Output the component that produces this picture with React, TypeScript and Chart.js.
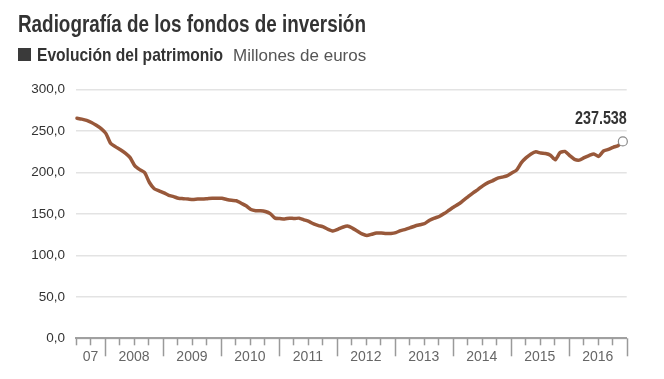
import React, { useEffect, useRef } from 'react';
import { Chart, registerables } from 'chart.js';

Chart.register(...registerables);

// Monthly values, July 2007 .. December 2016 (thousand millions of euros)
const VALUES: number[] = [
  265.5, 264.5, 263, 260.5, 257, 253, // 2007 Jul-Dec
  247, 235, 231, 227.5, 223.5, 218, 208, 203.5, 200, 188, 180.5, 178, // 2008
  175.5, 172.5, 171, 169, 168.5, 168, 167.5, 168, 168, 168.5, 169, 169, // 2009
  169, 167.5, 166.5, 166, 163, 160, 155.5, 154, 154, 153, 150.5, 145, // 2010
  144.5, 144, 145, 144.5, 145, 143, 141, 138, 136, 134.5, 131.5, 129.5, // 2011
  131.5, 134, 135.5, 133, 129.5, 126, 124, 125.5, 127, 127, 126.5, 126.5, // 2012
  127.5, 130, 131.5, 133.5, 135.5, 137, 138.5, 142.5, 145, 147, 150.5, 154.5, // 2013
  158.5, 162, 166.5, 171, 175.5, 179.5, 184, 187.5, 190, 193, 194.5, 196, // 2014
  199.5, 203, 212, 218, 222.5, 225, 223.5, 223, 221, 215.5, 224, 225.5, // 2015
  220.5, 216, 215, 218, 220.5, 222.5, 219.5, 226, 228, 230.5, 232.5, 237.538, // 2016
];

const X_LABELS: string[] = ['07', '2008', '2009', '2010', '2011', '2012', '2013', '2014', '2015', '2016'];
const Y_MIN = 0;
const Y_MAX = 300;
const Y_STEP = 50;
const LAST_LABEL = '237.538';
const TITLE = 'Radiografía de los fondos de inversión';
const SUBTITLE = 'Evolución del patrimonio';
const UNITS = 'Millones de euros';

const SANS = "'Liberation Sans', Arial, sans-serif";
const CONDENSE = 0.82;
const LINE_COLOR = '#98583a';

export default function App() {
  const ref = useRef<HTMLCanvasElement>(null);

  useEffect(() => {
    const canvas = ref.current;
    if (!canvas) return;
    const last = VALUES.length - 1;
    const points = VALUES.map((v, i) => ({ x: i + 0.2, y: v }));
    const totalMonths = 114; // Jul 2007 .. Jan 2017
    const labelPos = X_LABELS.map((_, k) => (k === 0 ? 3 : 12 * k));

    const tickMarks = {
      id: 'tickMarks',
      afterDraw(chart: any) {
        const sx = chart.scales.x;
        const ctx = chart.ctx;
        ctx.save();
        ctx.strokeStyle = '#9a9a9a';
        ctx.lineWidth = 1.5;
        for (let m = 0; m <= totalMonths; m += 3) {
          const px = Math.round(sx.getPixelForValue(m)) + 0.5;
          const len = m % 12 === 6 ? 18 : 7;
          ctx.beginPath();
          ctx.moveTo(px, sx.top);
          ctx.lineTo(px, sx.top + len);
          ctx.stroke();
        }
        ctx.restore();
      },
    };

    const endLabel = {
      id: 'endLabel',
      afterDatasetsDraw(chart: any) {
        const meta = chart.getDatasetMeta(0);
        const pt = meta.data[last];
        if (!pt) return;
        const ctx = chart.ctx;
        ctx.save();
        ctx.translate(pt.x + 4, pt.y - 17);
        ctx.scale(CONDENSE, 1);
        ctx.font = `bold 17.5px ${SANS}`;
        ctx.fillStyle = '#333';
        ctx.textAlign = 'right';
        ctx.textBaseline = 'alphabetic';
        ctx.fillText(LAST_LABEL, 0, 0);
        ctx.restore();
      },
    };

    const chart = new Chart(canvas, {
      type: 'line',
      data: {
        datasets: [
          {
            data: points,
            borderColor: LINE_COLOR,
            borderWidth: 3.5,
            borderJoinStyle: 'round',
            borderCapStyle: 'round',
            tension: 0.2,
            fill: false,
            clip: false as any,
            pointRadius: (c: any) => (c.dataIndex === last ? 4.5 : 0),
            pointHoverRadius: (c: any) => (c.dataIndex === last ? 4.5 : 0),
            pointBackgroundColor: '#fff',
            pointBorderColor: '#8a8a8a',
            pointBorderWidth: 1.2,
          },
        ],
      },
      options: {
        animation: false,
        responsive: false,
        events: [],
        layout: {
          autoPadding: false,
          padding: { top: 89.7, right: 37.3, bottom: 8.7, left: 0 },
        },
        plugins: {
          legend: { display: false },
          tooltip: { enabled: false },
          title: { display: false },
        },
        scales: {
          x: {
            type: 'linear',
            min: 0,
            max: totalMonths,
            grid: { display: false, drawTicks: false },
            border: { display: true, color: '#a0a0a0', width: 2 },
            afterBuildTicks: (scale: any) => {
              scale.ticks = labelPos.map((v) => ({ value: v }));
            },
            afterFit: (scale: any) => {
              scale.height = 32;
            },
            ticks: {
              autoSkip: false,
              maxRotation: 0,
              padding: 10,
              color: '#666',
              font: { family: SANS, size: 14 },
              callback: (value: any) => {
                const k = labelPos.indexOf(Number(value));
                return k >= 0 ? X_LABELS[k] : '';
              },
            },
          },
          y: {
            type: 'linear',
            min: Y_MIN,
            max: Y_MAX,
            grid: { color: '#e3e3e3', lineWidth: 1.5, drawTicks: false },
            border: { display: false },
            afterFit: (scale: any) => {
              scale.width = 76;
            },
            ticks: {
              stepSize: Y_STEP,
              padding: 11,
              color: '#333',
              font: { family: SANS, size: 13.5 },
              callback: (value: any) => Number(value).toFixed(1).replace('.', ','),
            },
          },
        },
      },
      plugins: [tickMarks, endLabel],
    } as any);

    return () => chart.destroy();
  }, []);

  return (
    <div
      style={{
        position: 'fixed',
        left: 0,
        top: 0,
        width: 664,
        height: 379,
        background: '#fff',
        overflow: 'hidden',
      }}
    >
      <canvas
        ref={ref}
        width={664}
        height={379}
        style={{ position: 'absolute', left: 0, top: 0, width: 664, height: 379 }}
      />
      <div
        style={{
          position: 'absolute',
          left: 18,
          top: 12.5,
          fontFamily: SANS,
          fontWeight: 'bold',
          fontSize: 23,
          lineHeight: '23px',
          color: '#333',
          whiteSpace: 'nowrap',
          transform: `scaleX(${CONDENSE})`,
          transformOrigin: 'left top',
        }}
      >
        {TITLE}
      </div>
      <div
        style={{
          position: 'absolute',
          left: 18,
          top: 48,
          width: 13,
          height: 13,
          background: '#3a3a3a',
        }}
      />
      <div
        style={{
          position: 'absolute',
          left: 37,
          top: 44.9,
          fontFamily: SANS,
          fontWeight: 'bold',
          fontSize: 19,
          lineHeight: '19px',
          color: '#333',
          whiteSpace: 'nowrap',
          transform: `scaleX(${CONDENSE})`,
          transformOrigin: 'left top',
        }}
      >
        {SUBTITLE}
      </div>
      <div
        style={{
          position: 'absolute',
          left: 233,
          top: 46.6,
          fontFamily: SANS,
          fontSize: 17,
          lineHeight: '17px',
          color: '#555',
          whiteSpace: 'nowrap',
        }}
      >
        {UNITS}
      </div>
    </div>
  );
}
